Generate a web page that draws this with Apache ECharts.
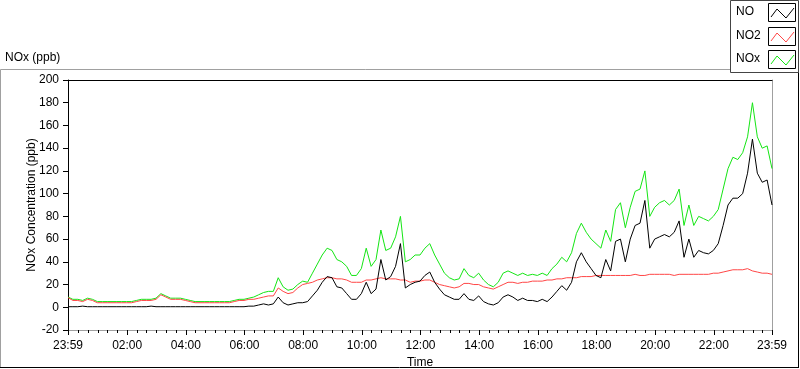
<!DOCTYPE html>
<html>
<head>
<meta charset="utf-8">
<script src="https://cdn.jsdelivr.net/npm/echarts@6/dist/echarts.min.js"></script>
<style>
html,body{margin:0;padding:0;background:#fff;}
#chart{width:800px;height:369px;}
</style>
</head>
<body>
<div id="chart"></div>
<script>
// sample times in minutes after midnight (-1 = 23:59 of previous day)
const times = [
  -1,9,19,29,39,49,59,69,79,89,99,109,
  119,129,139,149,159,169,179,189,199,209,219,229,
  239,249,259,269,279,289,299,309,319,329,339,349,
  359,369,379,389,399,409,419,429,439,449,459,469,
  479,489,499,509,519,529,539,549,559,569,579,589,
  599,609,619,629,639,649,659,669,679,689,699,709,
  719,729,739,749,759,769,779,789,799,809,819,829,
  839,849,859,869,879,889,899,909,919,929,939,949,
  959,969,979,989,999,1009,1019,1029,1039,1049,1059,1069,
  1079,1089,1099,1109,1119,1129,1139,1149,1159,1169,1179,1189,
  1199,1209,1219,1229,1239,1249,1259,1269,1279,1289,1299,1309,
  1319,1329,1339,1349,1359,1369,1379,1389,1399,1409,1419,1429,
  1439
];

const noValues = [
  0.5,0.5,0.5,1,0.5,0.5,
  0.5,0.5,0.5,0.5,0.5,0.5,
  0.5,0.5,0.5,0.5,0.5,1,
  0.5,0.5,0.5,0.5,0.5,0.5,
  0.5,0.5,0.5,0.5,0.5,0.5,
  0.5,0.5,0.5,0.5,0.5,0.5,
  0.5,1,1,2,3,2,
  3,9,4,2,3,4,
  4,5,10,15,22,27,
  26,18,17,12,7,7,
  12,22,12,16,42,24,
  27,36,56,17,20,22,
  23,28,31,22,16,11,
  9,7,7,12,7,6,
  10,5,3,2,4,9,
  11,9,6,8,6,6,
  5,7,5,9,14,19,
  15,22,40,48,40,34,
  28,26,42,32,58,60,
  40,60,72,74,94,52,
  60,62,64,62,66,76,
  44,60,44,50,48,47,
  50,56,72,90,96,96,
  100,118,148,118,110,112,90
];

const no2Values = [
  8.5,6,6,5,7,6,
  4,4,4,4,4,4,
  4,4,5,6,6,6,
  7,11,9,7,7,7,
  6,5,4,4,4,4,
  4,4,4,4,5,6,
  6,7,7,8,9,10,
  10,17,14,12,13,17,
  20,21,22,24,25,26,
  26,25,25,24,22,22,
  22,24,24,25,26,25,
  25,25,24,24,22,23,
  23,24,24,22,20,19,
  18,17,18,21,21,20,
  20,18,17,16,18,20,
  22,22,21,22,22,23,
  23,23,24,24,25,25,
  26,26,26,27,27,27,
  28,28,28,28,28,28,
  28,28,29,28,28,29,
  29,29,29,29,28,29,
  29,29,29,29,29,29,
  30,30,31,32,33,33,
  33,34,32,31,30,30,29
];

const noxValues = [
  9,7,7,6,8,7,
  5,5,5,5,5,5,
  5,5,6,7,7,7,
  8,12,10,8,8,8,
  7,6,5,5,5,5,
  5,5,5,5,6,7,
  7,8,9,11,13,14,
  14,26,18,15,16,20,
  23,22,30,38,46,52,
  50,42,40,36,28,28,
  34,52,36,42,68,50,
  52,62,80,40,42,46,
  46,52,56,46,38,30,
  26,24,25,34,28,26,
  30,24,20,18,22,30,
  32,30,28,30,28,29,
  28,30,28,34,38,44,
  40,48,65,74,66,60,
  56,52,68,58,86,92,
  70,88,102,104,120,80,
  88,92,94,90,94,104,
  72,90,72,80,78,76,
  80,86,104,122,132,130,
  136,150,180,150,140,142,122
];

const majorTicks = [-1,120,240,360,480,600,720,840,960,1080,1200,1320,1439];
const majorLabels = ['23:59','02:00','04:00','06:00','08:00','10:00','12:00','14:00','16:00','18:00','20:00','22:00','23:59'];

const minorTicks = [];
for (let m = 20; m < 1439; m += 20) if (m % 120 !== 0) minorTicks.push(m);

const FONT = 'Liberation Sans';
const pair = arr => times.map((t, i) => [t, arr[i]]);

const chart = echarts.init(document.getElementById('chart'), null, {renderer: 'canvas'});

function legendRow(y0, label, color) {
  return [
    {type:'text', left:736, top:y0 + 3, style:{text:label, fill:'#000', font:'12px ' + FONT}},
    {type:'rect', shape:{x:768.5, y:y0 + 0.5, width:27, height:18}, style:{fill:'#fff', stroke:'#000', lineWidth:1}},
    {type:'polyline', shape:{points:[[771, y0+14],[777, y0+6],[786, y0+15],[794, y0+5]]}, style:{stroke:color, lineWidth:1, fill:null}}
  ];
}

const option = {
  animation: false,
  backgroundColor: '#fff',
  textStyle: {fontFamily: FONT},
  grid: {left: 68, top: 80, right: 28, bottom: 39, containLabel: false, outerBoundsMode: 'none'},
  xAxis: [
    {
      type: 'value', min: -1, max: 1439, position: 'bottom',
      axisLine: {show: true, onZero: false, lineStyle: {color: '#a0a0a0', width: 1}},
      axisTick: {show: true, customValues: majorTicks, length: 5, inside: false, lineStyle: {color: '#000'}},
      axisLabel: {
        show: true, customValues: majorTicks, margin: 10, color: '#000', fontSize: 12, fontFamily: FONT,
        formatter: v => majorLabels[majorTicks.indexOf(v)] || ''
      },
      splitLine: {show: false},
      name: 'Time', nameLocation: 'middle', nameGap: 27, nameMoveOverlap: false,
      nameTextStyle: {color: '#000', fontSize: 12, fontFamily: FONT}
    },
    {
      type: 'value', min: -1, max: 1439, position: 'bottom',
      axisLine: {show: false, onZero: false},
      axisTick: {show: true, customValues: minorTicks, length: 3, lineStyle: {color: '#000'}},
      axisLabel: {show: false},
      splitLine: {show: false}
    },
    {
      type: 'value', min: -1, max: 1439, position: 'top',
      axisLine: {show: true, onZero: false, lineStyle: {color: '#000', width: 1}},
      axisTick: {show: false}, axisLabel: {show: false}, splitLine: {show: false}
    }
  ],
  yAxis: [
    {
      type: 'value', min: -20, max: 200, interval: 20, position: 'left',
      axisLine: {show: true, onZero: false, lineStyle: {color: '#000', width: 1}},
      axisTick: {show: true, length: 5, lineStyle: {color: '#000'}},
      axisLabel: {margin: 9, color: '#000', fontSize: 12, fontFamily: FONT},
      splitLine: {show: false},
      name: 'NOx Concentration (ppb)', nameLocation: 'middle', nameGap: 30, nameRotate: 90, nameMoveOverlap: false,
      nameTextStyle: {color: '#000', fontSize: 12, fontFamily: FONT}
    },
    {
      type: 'value', min: -20, max: 200, interval: 20, position: 'right',
      axisLine: {show: true, onZero: false, lineStyle: {color: '#a0a0a0', width: 1}},
      axisTick: {show: false}, axisLabel: {show: false}, splitLine: {show: false}
    }
  ],
  series: [
    {name: 'NOx', type: 'line', data: pair(noxValues), showSymbol: false, symbol: 'none',
     lineStyle: {color: '#14e614', width: 1}, itemStyle: {color: '#14e614'}, z: 2},
    {name: 'NO2', type: 'line', data: pair(no2Values), showSymbol: false, symbol: 'none',
     lineStyle: {color: '#ff4646', width: 1}, itemStyle: {color: '#ff4646'}, z: 3},
    {name: 'NO', type: 'line', data: pair(noValues), showSymbol: false, symbol: 'none',
     lineStyle: {color: '#000', width: 1}, itemStyle: {color: '#000'}, z: 4}
  ],
  graphic: [
    {type:'line', shape:{x1:0.5, y1:69.5, x2:730, y2:69.5}, style:{stroke:'#a0a0a0', lineWidth:1}},
    {type:'line', shape:{x1:0.5, y1:69.5, x2:0.5, y2:368}, style:{stroke:'#a0a0a0', lineWidth:1}},
    {type:'line', shape:{x1:0, y1:367.5, x2:799, y2:367.5}, style:{stroke:'#000', lineWidth:1}},
    {type:'line', shape:{x1:798.5, y1:72, x2:798.5, y2:368}, style:{stroke:'#000', lineWidth:1}},
    {type:'text', left:5, top:52, style:{text:'NOx (ppb)', fill:'#000', font:'12px ' + FONT}},
    {type:'rect', shape:{x:730.5, y:0.5, width:68, height:72}, style:{fill:'#fff', stroke:'#444', lineWidth:1}},
    ...legendRow(3, 'NO', '#000'),
    ...legendRow(27, 'NO2', '#ff4646'),
    ...legendRow(50, 'NOx', '#14e614')
  ]
};

chart.setOption(option);
</script>
</body>
</html>
